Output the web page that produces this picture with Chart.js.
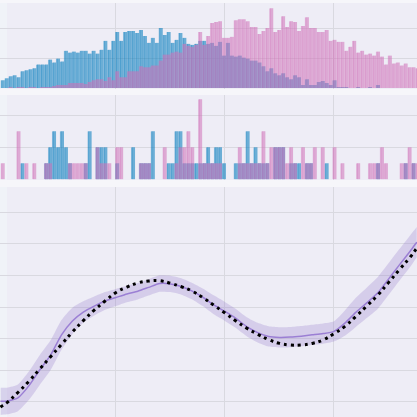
<!DOCTYPE html>
<html>
<head>
<meta charset="utf-8">
<script src="https://cdn.jsdelivr.net/npm/chart.js@4.4.1/dist/chart.umd.min.js"></script>
<style>
  body { margin: 0; width: 417px; height: 417px; overflow: hidden; position: relative; background: #f6f6fa; }
  canvas { position: absolute; left: 0; }
</style>
</head>
<body>
<canvas id="chart-hist" width="417" height="86" style="top:3px"></canvas>
<canvas id="chart-strip" width="417" height="85" style="top:95px"></canvas>
<canvas id="chart-curve" width="417" height="230" style="top:187px"></canvas>
<script>
// histogram bins (shared x axis)
const BIN_START = -0.0569;
const BIN_SIZE = 0.03624;

const histBlue = [8, 10, 12, 13, 11, 17, 18, 19, 20, 24, 24, 24, 29, 26, 30, 27, 38, 36, 37, 36, 38, 38, 35, 38, 35, 39, 48,
  39, 48, 57, 48, 57, 58, 58, 56, 59, 53, 46, 51, 46, 61, 54, 57, 46, 49, 56, 51, 45, 44, 45, 48, 48,
  45, 46, 43, 47, 33, 46, 33, 32, 33, 31, 30, 28, 28, 26, 22, 17, 20, 15, 13, 15, 11, 9, 13, 11, 3, 9, 3, 3,
  6, 7, 5, 3, 8, 1, 1, 1, 0, 0, 1, 0, 0, 1, 0, 3, 0, 0, 0, 0, 0, 0, 0, 0, 0, 0];
const histPink = [0, 0, 1, 0, 1, 1, 0, 1, 1, 0, 1, 1, 1, 2, 3, 3, 3, 5, 5, 5, 5, 4, 6, 8, 9, 9, 7,
  11, 8, 17, 11, 11, 17, 17, 17, 22, 21, 21, 23, 23, 28, 34, 34, 36, 37, 36, 45, 43, 42, 44, 57, 44,
  53, 66, 67, 68, 51, 51, 52, 69, 70, 70, 68, 62, 62, 55, 58, 61, 81, 57, 59, 73, 62, 68, 67, 58, 63, 72, 61, 61,
  57, 57, 59, 48, 49, 47, 47, 38, 42, 48, 36, 38, 34, 35, 33, 37, 32, 24, 33, 25, 26, 23, 25, 21, 21, 20];

const stripBlue = [0, 0, 0, 0, 0, 1, 0, 0, 0, 0, 0, 1, 2, 3, 2, 3, 2, 1, 0, 0, 0, 1, 3, 0, 2, 2, 2, 0, 0, 1,
  0, 0, 0, 2, 0, 1, 1, 1, 3, 0, 0, 0, 1, 1, 3, 3, 1, 1, 1, 1, 1, 1, 2, 1, 2, 2, 1, 0, 0, 1,
  1, 1, 3, 1, 2, 1, 1, 1, 0, 2, 2, 2, 0, 1, 1, 1, 0, 1, 1, 0, 0, 0, 1, 0, 0, 0, 0, 0, 0, 0,
  0, 0, 0, 0, 0, 1, 0, 0, 0, 0, 0, 0, 1, 0, 1, 0];
const stripPink = [1, 0, 0, 0, 3, 0, 1, 0, 1, 0, 0, 1, 1, 0, 0, 0, 0, 1, 1, 1, 1, 1, 0, 0, 2, 1, 1, 1, 0, 2,
  2, 0, 0, 0, 0, 1, 1, 1, 0, 0, 0, 2, 0, 0, 1, 2, 2, 3, 2, 0, 5, 1, 1, 1, 1, 1, 0, 0, 0, 0,
  2, 1, 1, 1, 1, 1, 3, 1, 2, 2, 2, 2, 1, 2, 1, 0, 2, 1, 1, 2, 0, 2, 0, 0, 2, 0, 1, 0, 0, 0,
  1, 0, 0, 1, 1, 1, 2, 1, 0, 0, 0, 1, 1, 2, 1, 1];

// bottom panel: true function, posterior mean and band
const curveX = [-0.06, 0, 0.1, 0.2, 0.3, 0.4, 0.5, 0.6, 0.7, 0.8, 0.9, 1.0, 1.1, 1.2, 1.3, 1.4, 1.5, 1.6, 1.7, 1.8,
  1.9, 2.0, 2.1, 2.2, 2.3, 2.4, 2.5, 2.6, 2.7, 2.8, 2.9, 3.0, 3.1, 3.2, 3.3, 3.4, 3.5, 3.6, 3.7, 3.76];
const truthY = [-0.16, -0.02, 0.30, 0.65, 1.04, 1.43, 1.82, 2.21, 2.57, 2.90, 3.19, 3.46, 3.63, 3.76, 3.82, 3.83, 3.75, 3.64, 3.50, 3.29,
  3.05, 2.81, 2.56, 2.33, 2.14, 1.97, 1.85, 1.80, 1.80, 1.85, 1.96, 2.16, 2.39, 2.70, 3.03, 3.37, 3.77, 4.18, 4.58, 4.86];
const meanY = [0.02, 0.03, 0.13, 0.51, 1.01, 1.48, 2.12, 2.56, 2.84, 3.03, 3.19, 3.30, 3.41, 3.50, 3.62, 3.74, 3.73, 3.65, 3.50, 3.30,
  3.06, 2.86, 2.64, 2.38, 2.19, 2.07, 2.04, 2.05, 2.08, 2.12, 2.16, 2.23, 2.49, 2.83, 3.13, 3.44, 3.88, 4.33, 4.77, 5.05];
const upperY = [0.45, 0.45, 0.55, 0.96, 1.48, 1.95, 2.59, 2.98, 3.18, 3.33, 3.47, 3.57, 3.67, 3.76, 3.88, 4.00, 3.99, 3.91, 3.76, 3.58,
  3.36, 3.16, 2.94, 2.68, 2.50, 2.39, 2.36, 2.37, 2.40, 2.44, 2.48, 2.55, 2.89, 3.29, 3.61, 3.94, 4.38, 4.83, 5.27, 5.53];
const lowerY = [-0.41, -0.39, -0.29, 0.06, 0.54, 1.01, 1.65, 2.14, 2.50, 2.73, 2.91, 3.03, 3.15, 3.24, 3.36, 3.48, 3.47, 3.39, 3.24, 3.02,
  2.76, 2.56, 2.34, 2.08, 1.88, 1.75, 1.72, 1.73, 1.76, 1.80, 1.84, 1.91, 2.09, 2.37, 2.65, 2.94, 3.38, 3.83, 4.27, 4.57];

const X_MIN = -0.0642;
const X_MAX = 3.7615;

const BG = "#eeedf6";
const STRIP_BG = "#f0f3f8";
const GRID = "#d9d9e0";
const BLUE = "rgba(0, 122, 188, 0.55)";
const BLUE_EDGE = "rgba(0, 122, 188, 0.42)";
const PINK = "rgba(207, 113, 184, 0.55)";
const PINK_EDGE = "rgba(207, 113, 184, 0.42)";

const binCenters = histBlue.map((_, i) => BIN_START + (i + 0.5) * BIN_SIZE);

// keep only gridlines on whole steps (drop the min/max edge ticks)
const keepSteps = (step) => (axis) => {
  axis.ticks = axis.ticks.filter((t) => Math.abs(t.value / step - Math.round(t.value / step)) < 1e-6);
};

const axis = (min, max, step) => ({
  type: "linear",
  min: min,
  max: max,
  offset: false,
  ticks: { display: false, stepSize: step },
  grid: { color: GRID, lineWidth: 1, drawTicks: false, offset: false },
  border: { display: false },
  afterBuildTicks: keepSteps(step),
});

const plotBg = {
  id: "plotBg",
  beforeDraw(chart) {
    const { ctx, chartArea, scales } = chart;
    ctx.save();
    ctx.fillStyle = BG;
    ctx.fillRect(chartArea.left, chartArea.top, chartArea.width, chartArea.height);
    const x0 = scales.x.getPixelForValue(0);
    ctx.fillStyle = STRIP_BG;
    ctx.fillRect(chartArea.left, chartArea.top, x0 - chartArea.left, chartArea.height);
    ctx.restore();
  },
};

const baseOptions = (yMin, yMax, yStep) => ({
  responsive: false,
  animation: false,
  layout: { padding: 0 },
  plugins: { legend: { display: false }, tooltip: { enabled: false } },
  scales: {
    x: axis(X_MIN, X_MAX, 1),
    y: axis(yMin, yMax, yStep),
  },
});

const barSet = (values, color, edge) => ({
  data: values.map((v, i) => ({ x: binCenters[i], y: v })),
  backgroundColor: color,
  borderColor: edge,
  borderWidth: { left: 1, right: 0, top: 0, bottom: 0 },
  borderSkipped: false,
  barPercentage: 1,
  categoryPercentage: 1,
  grouped: false,
});

new Chart(document.getElementById("chart-hist"), {
  type: "bar",
  data: { datasets: [barSet(histPink, PINK, PINK_EDGE), barSet(histBlue, BLUE, BLUE_EDGE)] },
  options: baseOptions(-1.02, 86.44, 30),
  plugins: [plotBg],
});

new Chart(document.getElementById("chart-strip"), {
  type: "bar",
  data: { datasets: [barSet(stripPink, PINK, PINK_EDGE), barSet(stripBlue, BLUE, BLUE_EDGE)] },
  options: baseOptions(-0.044, 5.27, 2),
  plugins: [plotBg],
});

const pts = (ys) => ys.map((y, i) => ({ x: curveX[i], y: y }));

new Chart(document.getElementById("chart-curve"), {
  type: "line",
  data: {
    datasets: [
      {
        data: pts(truthY),
        borderColor: "#000000",
        borderWidth: 3,
        borderDash: [3, 4],
        pointRadius: 0,
        tension: 0.4,
        fill: false,
      },
      {
        data: pts(meanY),
        borderColor: "#9b7fd4",
        borderWidth: 1.5,
        pointRadius: 0,
        tension: 0.2,
        fill: false,
      },
      {
        data: pts(upperY),
        borderWidth: 0,
        borderColor: "rgba(0,0,0,0)",
        backgroundColor: "rgba(140, 110, 200, 0.25)",
        pointRadius: 0,
        tension: 0.2,
        fill: "+1",
      },
      {
        data: pts(lowerY),
        borderWidth: 0,
        borderColor: "rgba(0,0,0,0)",
        pointRadius: 0,
        tension: 0.2,
        fill: false,
      },
    ],
  },
  options: baseOptions(-0.474, 6.79, 1),
  plugins: [plotBg],
});
</script>
</body>
</html>
